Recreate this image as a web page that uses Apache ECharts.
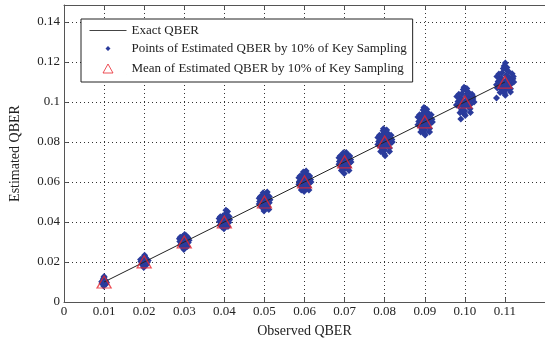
<!DOCTYPE html>
<html>
<head>
<meta charset="utf-8">
<script src="https://cdn.jsdelivr.net/npm/echarts@6/dist/echarts.min.js"></script>
<style>
    html, body {margin:0;padding:0;background:#fff;}
    #chart {width:545px;height:344px;}
</style>
</head>
<body>
<div id="chart"></div>
<script>
    // observed QBER values (x) and the clouds of estimated QBER around each one
    var observed = [0.01, 0.02, 0.03, 0.04, 0.05, 0.06, 0.07, 0.08, 0.09, 0.10, 0.11];
    var meanEstimated = [0.0100, 0.0201, 0.0300, 0.0400, 0.0500, 0.0601, 0.0701, 0.0800, 0.0901, 0.1000, 0.1099];
    var exactX = [0.01, 0.11];
    var exactY = [0.01, 0.11];
    var xTicks = [0, 0.01, 0.02, 0.03, 0.04, 0.05, 0.06, 0.07, 0.08, 0.09, 0.10, 0.11, 0.12];
    var yTicks = [0, 0.02, 0.04, 0.06, 0.08, 0.10, 0.12, 0.14];

    var points01 = [[0.0100,0.0100],[0.0096,0.0097],[0.0104,0.0102],[0.0099,0.0091],[0.0102,0.0094],[0.0097,0.0106],[0.0101,0.0110],[0.0094,0.0101],
        [0.0106,0.0098],[0.0100,0.0086],[0.0103,0.0107],[0.0098,0.0115],[0.0100,0.0121],[0.0095,0.0093],[0.0105,0.0090],[0.0102,0.0103],
        [0.0100,0.0127],[0.0099,0.0080]];
    var points02 = [[0.0200,0.0200],[0.0195,0.0196],[0.0205,0.0203],[0.0199,0.0188],[0.0203,0.0191],[0.0196,0.0209],[0.0201,0.0214],[0.0192,0.0202],
        [0.0208,0.0199],[0.0200,0.0180],[0.0204,0.0211],[0.0198,0.0220],[0.0201,0.0229],[0.0194,0.0190],[0.0206,0.0186],[0.0202,0.0205],
        [0.0197,0.0183],[0.0203,0.0222],[0.0210,0.0207],[0.0191,0.0212],[0.0199,0.0172],[0.0201,0.0234]];
    var points03 = [[0.0300,0.0300],[0.0293,0.0294],[0.0307,0.0305],[0.0297,0.0284],[0.0305,0.0287],[0.0294,0.0313],[0.0302,0.0319],[0.0289,0.0302],
        [0.0310,0.0297],[0.0300,0.0272],[0.0306,0.0316],[0.0296,0.0328],[0.0301,0.0338],[0.0291,0.0285],[0.0308,0.0278],[0.0303,0.0308],
        [0.0295,0.0275],[0.0305,0.0331],[0.0312,0.0309],[0.0288,0.0316],[0.0299,0.0262],[0.0302,0.0291],[0.0290,0.0324],[0.0309,0.0323]];
    var points04 = [[0.0400,0.0400],[0.0393,0.0394],[0.0407,0.0406],[0.0397,0.0383],[0.0405,0.0386],[0.0393,0.0414],[0.0402,0.0421],[0.0388,0.0403],
        [0.0411,0.0397],[0.0400,0.0371],[0.0407,0.0417],[0.0396,0.0430],[0.0403,0.0441],[0.0390,0.0385],[0.0409,0.0378],[0.0404,0.0409],
        [0.0394,0.0375],[0.0406,0.0434],[0.0413,0.0411],[0.0387,0.0417],[0.0399,0.0366],[0.0408,0.0452],[0.0402,0.0391],[0.0390,0.0426],
        [0.0412,0.0428],[0.0404,0.0459]];
    var points05 = [[0.0500,0.0500],[0.0493,0.0493],[0.0507,0.0506],[0.0497,0.0482],[0.0505,0.0485],[0.0493,0.0514],[0.0502,0.0521],[0.0488,0.0502],
        [0.0512,0.0496],[0.0500,0.0468],[0.0507,0.0517],[0.0496,0.0531],[0.0503,0.0541],[0.0490,0.0484],[0.0509,0.0476],[0.0504,0.0509],
        [0.0494,0.0472],[0.0506,0.0535],[0.0514,0.0511],[0.0487,0.0519],[0.0499,0.0455],[0.0507,0.0550],[0.0502,0.0490],[0.0490,0.0527],
        [0.0512,0.0527],[0.0487,0.0490],[0.0497,0.0546],[0.0511,0.0463]];
    var points06 = [[0.0600,0.0600],[0.0593,0.0593],[0.0607,0.0607],[0.0597,0.0581],[0.0605,0.0584],[0.0593,0.0615],[0.0602,0.0623],[0.0587,0.0602],
        [0.0613,0.0596],[0.0600,0.0566],[0.0608,0.0618],[0.0595,0.0633],[0.0603,0.0644],[0.0589,0.0584],[0.0610,0.0574],[0.0604,0.0610],
        [0.0594,0.0570],[0.0607,0.0638],[0.0615,0.0612],[0.0586,0.0621],[0.0599,0.0553],[0.0604,0.0655],[0.0602,0.0589],[0.0589,0.0630],
        [0.0613,0.0630],[0.0586,0.0589],[0.0597,0.0650],[0.0611,0.0560],[0.0616,0.0600],[0.0592,0.0560]];
    var points07 = [[0.0700,0.0700],[0.0693,0.0693],[0.0707,0.0707],[0.0697,0.0681],[0.0705,0.0684],[0.0693,0.0715],[0.0702,0.0723],[0.0687,0.0702],
        [0.0713,0.0696],[0.0700,0.0666],[0.0708,0.0718],[0.0695,0.0733],[0.0703,0.0743],[0.0689,0.0684],[0.0710,0.0674],[0.0704,0.0710],
        [0.0694,0.0670],[0.0707,0.0737],[0.0715,0.0712],[0.0686,0.0721],[0.0699,0.0643],[0.0704,0.0748],[0.0702,0.0689],[0.0689,0.0730],
        [0.0713,0.0730],[0.0686,0.0689],[0.0697,0.0746],[0.0711,0.0658],[0.0716,0.0700],[0.0692,0.0657]];
    var points08 = [[0.0800,0.0800],[0.0792,0.0792],[0.0808,0.0808],[0.0797,0.0778],[0.0806,0.0782],[0.0792,0.0817],[0.0803,0.0826],[0.0785,0.0802],
        [0.0815,0.0795],[0.0800,0.0760],[0.0809,0.0820],[0.0794,0.0838],[0.0803,0.0850],[0.0787,0.0782],[0.0812,0.0770],[0.0805,0.0811],
        [0.0793,0.0766],[0.0808,0.0843],[0.0818,0.0813],[0.0783,0.0823],[0.0799,0.0740],[0.0805,0.0860],[0.0802,0.0787],[0.0787,0.0834],
        [0.0816,0.0834],[0.0783,0.0787],[0.0796,0.0856],[0.0812,0.0752],[0.0819,0.0800],[0.0790,0.0752],[0.0801,0.0731],[0.0797,0.0866],
        [0.0810,0.0790],[0.0791,0.0810]];
    var points09 = [[0.0900,0.0900],[0.0892,0.0892],[0.0908,0.0908],[0.0897,0.0877],[0.0906,0.0881],[0.0892,0.0918],[0.0903,0.0928],[0.0885,0.0902],
        [0.0915,0.0895],[0.0900,0.0859],[0.0909,0.0921],[0.0894,0.0940],[0.0903,0.0952],[0.0887,0.0881],[0.0912,0.0868],[0.0905,0.0912],
        [0.0893,0.0864],[0.0908,0.0946],[0.0918,0.0914],[0.0883,0.0925],[0.0899,0.0843],[0.0905,0.0964],[0.0902,0.0886],[0.0887,0.0936],
        [0.0916,0.0936],[0.0883,0.0886],[0.0896,0.0960],[0.0912,0.0850],[0.0919,0.0900],[0.0890,0.0850],[0.0901,0.0835],[0.0898,0.0972],
        [0.0910,0.0889],[0.0891,0.0910]];
    var points10 = [[0.1000,0.1000],[0.0991,0.0991],[0.1009,0.1009],[0.0997,0.0976],[0.1007,0.0980],[0.0991,0.1019],[0.1003,0.1030],[0.0983,0.1002],
        [0.1017,0.0994],[0.1000,0.0955],[0.1010,0.1023],[0.0993,0.1043],[0.1004,0.1056],[0.0985,0.0980],[0.1013,0.0966],[0.1006,0.1013],
        [0.0992,0.0960],[0.1009,0.1049],[0.1020,0.1015],[0.0980,0.1027],[0.0999,0.0940],[0.1005,0.1068],[0.1002,0.0985],[0.0985,0.1039],
        [0.1018,0.1039],[0.0979,0.0985],[0.0996,0.1063],[0.1014,0.0948],[0.1023,0.1000],[0.0988,0.0946],[0.1001,0.0932],[0.0998,0.1074],
        [0.1012,0.0988],[0.0989,0.1011],[0.0990,0.0915],[0.1021,0.1026]];
    var points11 = [[0.1100,0.1100],[0.1091,0.1091],[0.1109,0.1109],[0.1097,0.1076],[0.1107,0.1080],[0.1091,0.1120],[0.1103,0.1132],[0.1083,0.1102],
        [0.1117,0.1094],[0.1100,0.1057],[0.1110,0.1124],[0.1093,0.1146],[0.1104,0.1160],[0.1085,0.1080],[0.1114,0.1066],[0.1106,0.1114],
        [0.1092,0.1062],[0.1109,0.1153],[0.1120,0.1116],[0.1080,0.1128],[0.1099,0.1044],[0.1105,0.1172],[0.1102,0.1085],[0.1085,0.1140],
        [0.1118,0.1141],[0.1079,0.1086],[0.1096,0.1167],[0.1114,0.1050],[0.1122,0.1100],[0.1088,0.1048],[0.1101,0.1034],[0.1098,0.1180],
        [0.1112,0.1088],[0.1089,0.1112],[0.1121,0.1128],[0.1081,0.1070],[0.1101,0.1195],[0.1079,0.1020],[0.1108,0.1068],[0.1094,0.1101]];

    var allPoints = [].concat(points01, points02, points03, points04, points05, points06,
        points07, points08, points09, points10, points11);

    var font = 'Liberation Serif';
    var axisColor = '#555';
    var textColor = '#222';

    // legend icons keep a 37x12 box so the symbols are not stretched
    var boxCorners = 'M0,0L0,0.01M37,12L37,11.99';
    var diamondIcon = 'path://' + boxCorners + 'M18.5,3.5L21,6L18.5,8.5L16,6Z';
    var triangleIcon = 'path://' + boxCorners + 'M18.5,1.5L23.5,10.5L13.5,10.5Z';

    var chart = echarts.init(document.getElementById('chart'), null, {renderer: 'canvas'});
    var option = {
        animation: false,
        backgroundColor: '#fff',
        textStyle: {fontFamily: font},
        grid: {left: 61, right: -4, top: 5, bottom: 42, containLabel: false},
        legend: {
            orient: 'vertical',
            left: 81,
            top: 19,
            padding: [5, 6, 5, 6],
            itemWidth: 37,
            itemHeight: 12,
            itemGap: 5,
            borderColor: '#222',
            borderWidth: 1,
            backgroundColor: '#fff',
            textStyle: {fontFamily: font, fontSize: 13, color: textColor},
            data: [
                {name: 'Exact QBER', icon: 'path://M0,5L37,5L37,6L0,6Z', itemStyle: {color: '#444'}},
                {name: 'Points of Estimated QBER by 10% of Key Sampling', icon: diamondIcon, itemStyle: {color: '#2a3b9c'}},
                {name: 'Mean of Estimated QBER by 10% of Key Sampling', icon: triangleIcon, itemStyle: {color: 'none', borderColor: '#e8252e', borderWidth: 1}}
            ]
        },
        xAxis: [{
            type: 'value',
            min: xTicks[0],
            max: xTicks[xTicks.length - 1],
            interval: 0.01,
            name: 'Observed QBER',
            nameLocation: 'middle',
            nameGap: 22,
            nameTextStyle: {fontFamily: font, fontSize: 14, color: textColor},
            axisLine: {lineStyle: {color: axisColor, width: 1}},
            axisTick: {inside: true, length: 4, lineStyle: {color: axisColor}},
            axisLabel: {
                fontFamily: font, fontSize: 13, color: textColor, margin: 3, showMaxLabel: false,
                formatter: function (v) { return v === 0 ? '0' : v.toFixed(2); }
            },
            splitLine: {show: true, lineStyle: {color: '#333', type: [1, 3], width: 1}}
        }, {
            type: 'value',
            position: 'top',
            min: xTicks[0],
            max: xTicks[xTicks.length - 1],
            interval: 0.01,
            axisLine: {show: true, lineStyle: {color: axisColor, width: 1}},
            axisTick: {show: true, inside: true, length: 4, lineStyle: {color: axisColor}},
            axisLabel: {show: false},
            splitLine: {show: false}
        }],
        yAxis: {
            type: 'value',
            min: yTicks[0],
            max: 0.1485,
            interval: 0.02,
            name: 'Estimated QBER',
            nameLocation: 'middle',
            nameGap: 42,
            nameTextStyle: {fontFamily: font, fontSize: 14, color: textColor},
            axisLine: {show: true, lineStyle: {color: axisColor, width: 1}},
            axisTick: {show: true, inside: true, length: 4, lineStyle: {color: axisColor}},
            axisLabel: {
                fontFamily: font, fontSize: 13, color: textColor, margin: 4, showMaxLabel: false,
                formatter: function (v) { return String(+v.toFixed(2)); }
            },
            splitLine: {show: true, lineStyle: {color: '#333', type: [1, 3], width: 1}}
        },
        series: [{
            name: 'Exact QBER',
            type: 'line',
            data: exactX.map(function (x, i) { return [x, exactY[i]]; }),
            symbol: 'none',
            lineStyle: {color: '#222', width: 1},
            z: 3
        }, {
            name: 'Points of Estimated QBER by 10% of Key Sampling',
            type: 'scatter',
            data: allPoints,
            symbol: 'diamond',
            symbolSize: 7,
            itemStyle: {color: '#2a3b9c', opacity: 1},
            z: 2
        }, {
            name: 'Mean of Estimated QBER by 10% of Key Sampling',
            type: 'scatter',
            data: observed.map(function (x, i) { return [x, meanEstimated[i]]; }),
            symbol: 'triangle',
            symbolSize: [14, 12],
            itemStyle: {color: 'none', borderColor: '#e8252e', borderWidth: 1.3},
            z: 4
        }]
    };
    chart.setOption(option);
</script>
</body>
</html>
